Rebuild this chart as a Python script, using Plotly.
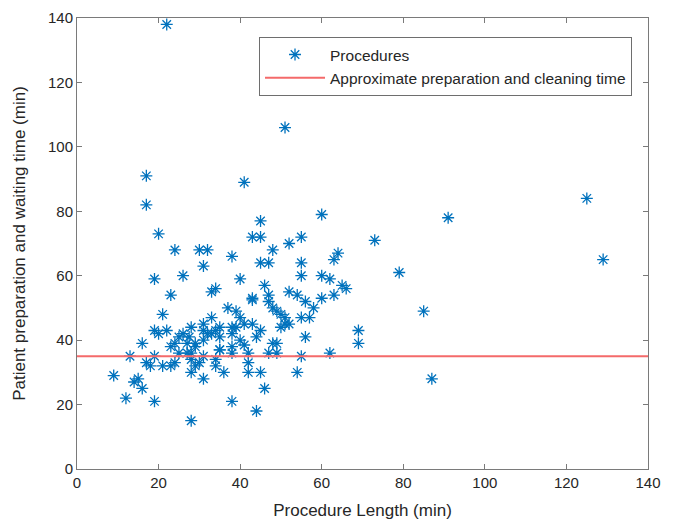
import plotly.graph_objects as go

proc_len = [22, 51, 41, 17, 17, 125, 129, 91, 73, 79, 85, 87, 69, 69, 62, 60,
            45, 43, 45, 52, 55, 32, 30, 24, 20, 38, 48, 45, 47, 55, 55, 31,
            64, 63, 60, 62, 65, 66, 40, 46, 34, 33, 19, 26, 23, 43, 47, 47,
            52, 54, 60, 63, 56, 58, 48, 49, 50, 37, 39, 40, 33, 51, 52, 55,
            57, 31, 35, 38, 39, 41, 43, 50, 51, 45, 33, 35, 38, 40, 44, 31,
            56, 28, 32, 29, 27, 35, 38, 41, 48, 49, 47, 49, 38, 55, 31, 34,
            34, 42, 42, 45, 54, 31, 46, 38, 44, 21, 19, 20, 22, 16, 13, 9,
            14, 15, 16, 12, 19, 28, 17, 18, 19, 21, 23, 24, 23, 24, 25, 26,
            28, 25, 27, 28, 29, 31, 34, 29, 28, 30, 43, 35, 27.5, 36, 42]
wait_time = [138, 106, 89, 91, 82, 84, 65, 78, 71, 61, 49, 28, 43, 39, 36, 79,
             77, 72, 72, 70, 72, 68, 68, 68, 73, 66, 68, 64, 64, 64, 60, 63,
             67, 65, 60, 59, 57, 56, 59, 57, 56, 55, 59, 60, 54, 53, 54, 52,
             55, 54, 53, 54, 52, 50, 50, 49, 48, 50, 49, 47, 47, 47, 45, 47,
             47, 45, 44, 44, 44, 45, 45, 44, 45, 43, 42, 41, 42, 40, 41, 40,
             41, 44, 42, 39, 39, 37, 38, 38.5, 39, 39, 36, 36, 36, 35, 35, 34,
             32, 33, 30, 30, 30, 28, 25, 21, 18, 48, 43, 42, 43, 39, 35, 29,
             27, 28, 25, 22, 21, 15, 33, 32, 35, 32, 32, 33, 38, 39, 41, 42,
             30, 36, 36, 36, 38, 43, 43, 32, 34, 33, 52.5, 37, 41, 30, 36]

x_ticks = [0, 20, 40, 60, 80, 100, 120, 140]
y_ticks = [0, 20, 40, 60, 80, 100, 120, 140]
ref_x = [0, 140]
ref_y = [35, 35]

FONT = "Liberation Sans, Arial, sans-serif"
AXC = "#7a7a7a"

fig = go.Figure()
fig.add_trace(go.Scatter(
    x=proc_len, y=wait_time, mode="markers", name="Procedures",
    marker=dict(symbol="asterisk-open", size=10, color="#0072BD",
                line=dict(color="#0072BD", width=1.3)),
))
fig.add_trace(go.Scatter(
    x=ref_x, y=ref_y, mode="lines",
    name="Approximate preparation and cleaning time",
    line=dict(color="#F46A6A", width=2),
))

axis_common = dict(
    showgrid=False, zeroline=False, showline=True, linecolor=AXC, linewidth=1,
    mirror="ticks", ticks="inside", ticklen=5, tickcolor=AXC, automargin=False,
    tickfont=dict(family=FONT, size=15, color="#262626"),
)
fig.update_xaxes(range=[0, 140], tickvals=x_ticks,
                 title=dict(text="Procedure Length (min)",
                            font=dict(family=FONT, size=17, color="#262626"),
                            standoff=14),
                 **axis_common)
fig.update_yaxes(range=[0, 140], tickvals=y_ticks,
                 title=dict(text="Patient preparation and waiting time (min)",
                            font=dict(family=FONT, size=17, color="#262626"),
                            standoff=18),
                 **axis_common)

fig.update_layout(
    width=677, height=521,
    margin=dict(l=77, r=29, t=18, b=52),
    paper_bgcolor="white", plot_bgcolor="white",
    showlegend=True,
    legend=dict(x=0.972, y=0.958, xanchor="right", yanchor="top",
                bgcolor="white", bordercolor="#6e6e6e", borderwidth=1,
                font=dict(family=FONT, size=15.5, color="#262626"),
                itemwidth=60, tracegroupgap=0),
)

fig.write_html("out.html")
